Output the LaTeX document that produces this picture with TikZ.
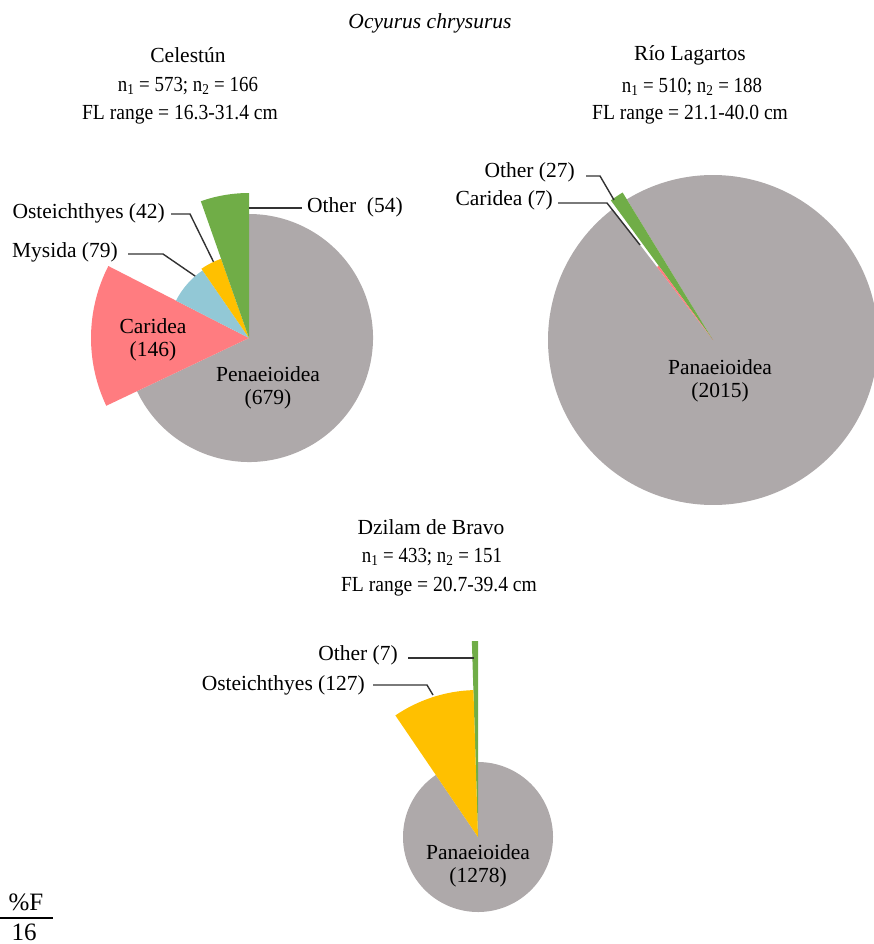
\documentclass[tikz,border=0pt]{standalone}
\usepackage{graphicx}
\usepackage{fontspec}
\setmainfont{Liberation Serif}
\definecolor{pgray}{RGB}{174,169,170}
\definecolor{ppink}{RGB}{255,124,128}
\definecolor{pblue}{RGB}{146,200,214}
\definecolor{pyellow}{RGB}{255,192,0}
\definecolor{pgreen}{RGB}{112,173,71}
\definecolor{lead}{RGB}{50,50,50}
\newcommand{\pslice}[4]{\fill[#4] (0,0) -- (#1:#3) arc[start angle=#1,end angle=#2,radius=#3] -- cycle;}
\newcommand{\nline}[1]{\scalebox{0.88}[1]{#1}}
\newcommand{\fline}[1]{\scalebox{0.91}[1]{#1}}
\begin{document}
\begin{tikzpicture}[x=1pt,y=1pt,
  lbl/.style={font=\fontsize{21.5}{23}\selectfont, inner sep=0pt, align=center},
  leader/.style={draw=lead, line width=1.4pt}]
\useasboundingbox (0,0) rectangle (874,-944);
\clip (0,0) rectangle (874,-944);

% ---------- headings ----------
\node[lbl, font=\fontsize{21.5}{23}\selectfont\itshape] (title) at (430,-23) {Ocyurus chrysurus};
\node[lbl] (h1) at (188,-55) {Celestún};
\node[lbl] (n1) at (188,-86) {\nline{n\textsubscript{1} = 573; n\textsubscript{2} = 166}};
\node[lbl] (f1) at (180,-115) {\fline{FL range = 16.3-31.4 cm}};
\node[lbl] (h2) at (690,-55) {Río Lagartos};
\node[lbl] (n2) at (692,-87) {\nline{n\textsubscript{1} = 510; n\textsubscript{2} = 188}};
\node[lbl] (f2) at (690,-115) {\fline{FL range = 21.1-40.0 cm}};
\node[lbl] (h3) at (431,-527) {Dzilam de Bravo};
\node[lbl] (n3) at (432,-557) {\nline{n\textsubscript{1} = 433; n\textsubscript{2} = 151}};
\node[lbl] (f3) at (439,-587) {\fline{FL range = 20.7-39.4 cm}};

% ---------- Celestun ----------
\begin{scope}[shift={(249,-338)}]
  \pslice{205.4}{450}{124}{pgray}
  \pslice{152.9}{205.4}{158}{ppink}
  \pslice{124.5}{152.9}{82}{pblue}
  \pslice{109.4}{124.5}{84}{pyellow}
  \pslice{90}{109.4}{145}{pgreen}
  \coordinate (cA) at (115:84);
  \coordinate (cB) at (131:82);
\end{scope}
\node[lbl, anchor=east] (ost1) at (165,-213) {Osteichthyes (42)};
\node[lbl, anchor=east] (mys1) at (118,-252) {Mysida (79)};
\node[lbl, anchor=west] (oth1) at (307,-207) {Other\ \ (54)};
\node[lbl] (car1) at (153,-340) {Caridea\\(146)};
\node[lbl] (pen1) at (268,-388) {Penaeioidea\\(679)};
\coordinate (o1a) at (171,-214);
\coordinate (o1b) at (190,-214);
\coordinate (m1a) at (128,-254);
\coordinate (m1b) at (163,-254);
\coordinate (t1a) at (249,-208);
\coordinate (t1b) at (302,-208);
\draw[leader] (o1a) -- (o1b) -- (cA);
\draw[leader] (m1a) -- (m1b) -- (cB);
\draw[leader] (t1a) -- (t1b);

% ---------- Rio Lagartos ----------
\begin{scope}[shift={(713,-340)}]
  \pslice{127.5}{481.5}{165}{pgray}
  \pslice{121.5}{126.2}{173}{pgreen}
  \pslice{126.2}{127.5}{92}{ppink}
\end{scope}
\node[lbl, anchor=east] (oth2) at (575,-172) {Other (27)};
\node[lbl, anchor=east] (car2) at (553,-200) {Caridea (7)};
\node[lbl] (pan2) at (720,-381) {Panaeioidea\\(2015)};
\coordinate (o2a) at (586,-176);
\coordinate (o2b) at (600,-176);
\coordinate (o2c) at (614,-200);
\coordinate (c2a) at (558,-203);
\coordinate (c2b) at (607,-203);
\coordinate (c2c) at (640,-245);
\draw[leader] (o2a) -- (o2b) -- (o2c);
\draw[leader] (c2a) -- (c2b) -- (c2c);

% ---------- Dzilam de Bravo ----------
\begin{scope}[shift={(478,-837)}]
  \pslice{124.2}{450}{75}{pgray}
  \pslice{90}{91.8}{196}{pgreen}
  \pslice{91.8}{124.2}{147}{pyellow}
\end{scope}
\node[lbl, anchor=east] (oth3) at (398,-655) {Other (7)};
\node[lbl, anchor=east] (ost3) at (365,-685) {Osteichthyes (127)};
\node[lbl] (pan3) at (478,-866) {Panaeioidea\\(1278)};
\coordinate (o3a) at (408,-658);
\coordinate (o3b) at (474,-658);
\coordinate (s3a) at (373,-685);
\coordinate (s3b) at (427,-685);
\coordinate (s3c) at (433,-695);
\draw[leader] (o3a) -- (o3b);
\draw[leader] (s3a) -- (s3b) -- (s3c);

% ---------- legend fragment ----------
\node[lbl, font=\fontsize{25}{27}\selectfont] (pf) at (26,-902) {\%F};
\node[lbl, font=\fontsize{25}{27}\selectfont] (sx) at (24,-932) {16};
\coordinate (r1) at (0,-918);
\coordinate (r2) at (53,-918);
\draw[line width=2.6pt] (r1) -- (r2);
\end{tikzpicture}
\end{document}
